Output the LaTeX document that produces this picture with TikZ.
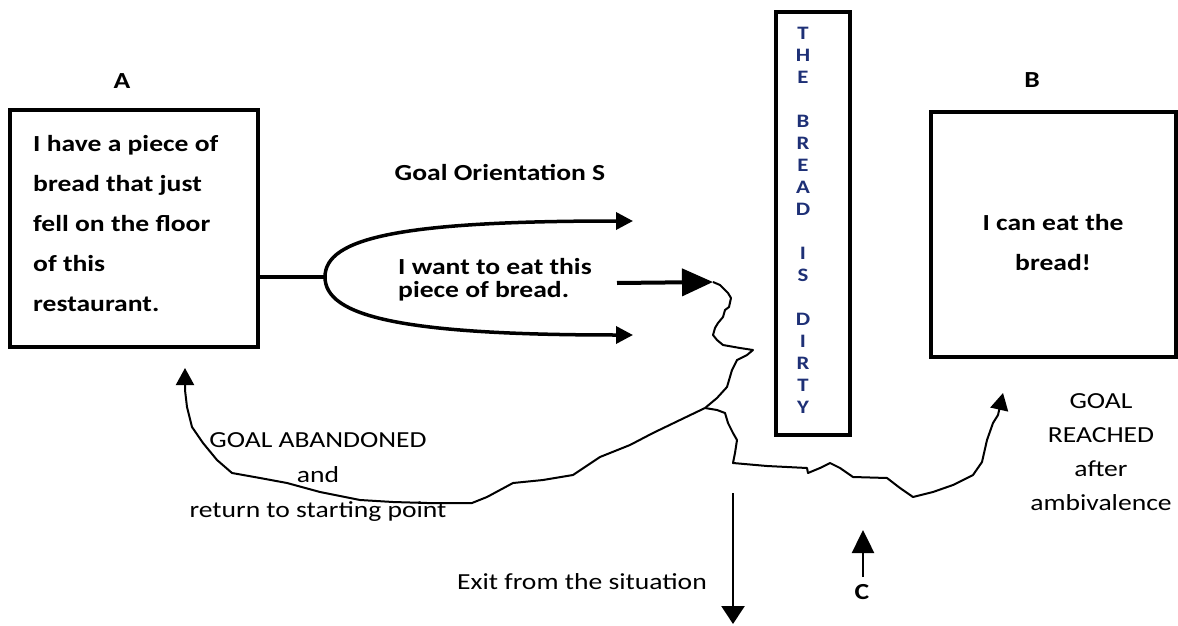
\documentclass[tikz,border=0pt]{standalone}
\usepackage{fontspec}
\setmainfont{Carlito}[FakeStretch=1.2]
\usetikzlibrary{arrows.meta}
\definecolor{navy}{RGB}{30,48,118}

\begin{document}
\begin{tikzpicture}[x=1pt, y=-1pt,
  panel/.style={draw, line width=4, inner sep=0},
  boldtxt/.style={font=\bfseries\fontsize{23}{40}\selectfont, inner sep=0},
  plaintxt/.style={font=\fontsize{23}{35}\selectfont, inner sep=0, align=center},
  wig/.style={line width=2, line join=round},
  headarr/.style={-{Triangle[length=17pt,width=18pt]}}]
\useasboundingbox (0,0) rectangle (1178,626);
\node[panel, minimum width=248, minimum height=237] (boxa) at (134,228.5){};
\node[boldtxt, anchor=west, align=left] (texta) at (33,224){I have a piece of\\bread that just\\fell on the floor\\of this\\restaurant.};
\node[boldtxt] (labela) at (122,81){A};
\node[panel, minimum width=245, minimum height=245] (boxb) at (1053.5,234.5){};
\node[boldtxt, align=center] (textb) at (1053,243){I can eat the\\bread!};
\node[boldtxt] (labelb) at (1032,80){B};
\node[panel, minimum width=74, minimum height=423] (wall) at (813,223.5){};
\node[font=\bfseries\fontsize{19}{22}\selectfont, text=navy, align=center, inner sep=0] (dirty) at (803,220){T\\H\\E\\[22pt]B\\R\\E\\A\\D\\[22pt]I\\S\\[22pt]D\\I\\R\\T\\Y};
\node[boldtxt] (goal) at (500,172){Goal Orientation S};
\node[font=\bfseries\fontsize{23}{23}\selectfont, anchor=west, align=left, inner sep=0] (want) at (398,280){I want to eat this\\piece of bread.};
\coordinate (fork) at (325,277);
\coordinate (upend) at (633,221);
\coordinate (lowend) at (633,335);
\draw[line width=3.5](fork -| boxa.east) -- (fork);
\draw[line width=3.5, -{Triangle[length=17pt,width=17pt]}](fork) .. controls (325,238) and (400,221) .. (upend);
\draw[line width=3.5, -{Triangle[length=17pt,width=17pt]}](fork) .. controls (325,316) and (400,335) .. (lowend);
\coordinate (bigstart) at (617,283);
\coordinate (hit) at (713,282);
\draw[line width=4, -{Triangle[length=31pt,width=27pt]}](bigstart) -- (hit);
\coordinate (split) at (705,408);
\draw[wig](hit) -- (720,285) -- (728,293) -- (731,298) -- (729,307) -- (725,310) -- (723,317) -- (718,323) -- (715,328) -- (713,335) -- (717,340) -- (723,345) -- (740,348) -- (753,350) -- (747,355) -- (737,360) -- (732,370) -- (727,387) -- (717,398) -- (split);
\coordinate (backtip) at (185,368);
\draw[wig, headarr](split) -- (680,420) -- (653,433) -- (630,445) -- (600,457) -- (573,475) -- (543,480) -- (513,483) -- (487,497) -- (472,503) -- (427,503) -- (393,502) -- (360,500) -- (320,492) -- (287,483) -- (260,478) -- (232,473) -- (217,460) -- (203,443) -- (192,427) -- (187,407) -- (185,390) -- (backtip);
\coordinate (reachtip) at (1003,393);
\draw[wig, headarr](split) -- (717,410) -- (725,413) -- (728,423) -- (733,433) -- (737,440) -- (735,453) -- (733,463) -- (767,466) -- (807,468) -- (808,473) -- (820,468) -- (830,463) -- (840,468) -- (853,477) -- (887,478) -- (900,488) -- (913,497) -- (933,492) -- (953,485) -- (973,475) -- (982,462) -- (987,440) -- (993,423) -- (998,415) -- (reachtip);
\node[plaintxt] (abandon) at (318,477){GOAL ABANDONED\\and\\return to starting point};
\node[plaintxt, font=\fontsize{23}{34}\selectfont] (reached) at (1101,452){GOAL\\REACHED\\after\\ambivalence};
\coordinate (exitstart) at (733,493);
\coordinate (exitend) at (733,624);
\draw[line width=2.5, -{Triangle[length=18pt,width=23pt]}](exitstart) -- (exitend);
\node[plaintxt] (exit) at (582,582){Exit from the situation};
\coordinate (cstart) at (863,577);
\coordinate (cend) at (863,530);
\draw[line width=2.5, -{Triangle[length=23pt,width=22pt]}](cstart) -- (cend);
\node[boldtxt] (labelc) at (862,592){C};
\end{tikzpicture}
\end{document}
